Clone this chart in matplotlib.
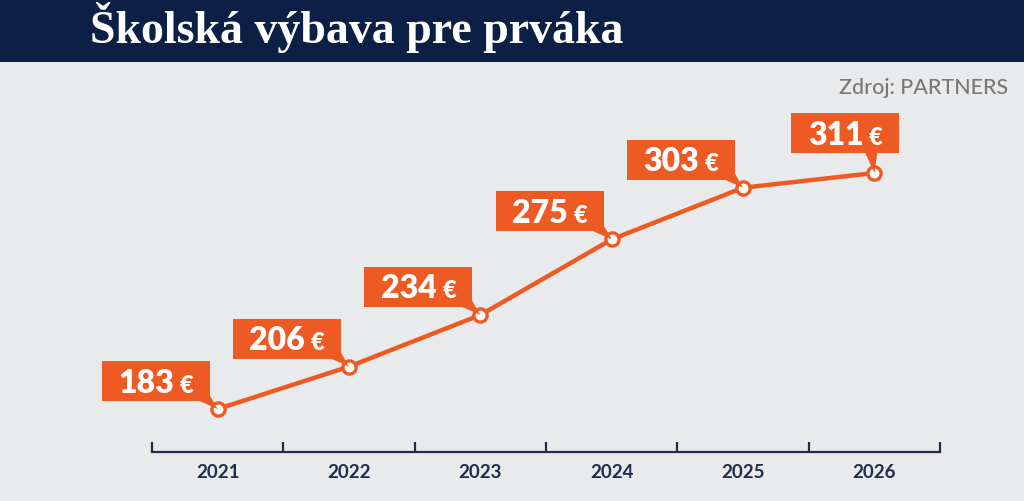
import matplotlib.pyplot as plt
import matplotlib.transforms as mtransforms
from matplotlib.patches import Polygon
from matplotlib.offsetbox import TextArea, HPacker, AnnotationBbox

# Data
years = ['2021', '2022', '2023', '2024', '2025', '2026']
prices = [183, 206, 234, 275, 303, 311]

title = 'Školská výbava pre prváka'
source = 'Zdroj: PARTNERS'

orange = '#ee5a24'
navy = '#0c1f45'
axis_col = '#1f2d4d'
bg = '#e9eaec'

W, H = 1024, 502
fig = plt.figure(figsize=(W / 100, H / 100), dpi=100)
fig.patch.set_facecolor(bg)

# top band with title
band = fig.add_axes([0, 1 - 63 / H, 1, 63 / H])
band.set_facecolor(navy)
band.set_xticks([])
band.set_yticks([])
for s in band.spines.values():
    s.set_visible(False)
fig.text(90 / W, 1 - 43 / H, title, color='white', fontsize=33,
         fontweight='bold', family='Liberation Serif', va='baseline', ha='left')

fig.text(1008 / W, 1 - 88 / H, source, color='#787878', fontsize=15.5,
         family='Lato', fontweight='medium', ha='right', va='center')

# chart area
ax = fig.add_axes([152 / W, 1 - 453 / H, 788 / W, (453 - 63) / H])
ax.set_facecolor('none')
ax.set_xlim(-0.5, len(years) - 0.5)
ax.set_ylim(159.7, 371.2)
for s in ['top', 'left', 'right']:
    ax.spines[s].set_visible(False)
ax.spines['bottom'].set_color(axis_col)
ax.spines['bottom'].set_linewidth(1.6)
ax.set_yticks([])
ax.set_xticks([i - 0.5 for i in range(len(years) + 1)])
ax.set_xticklabels([])
ax.tick_params(axis='x', which='major', direction='in', length=7,
               width=1.6, color=axis_col)
ax.set_xticks(range(len(years)), minor=True)
ax.set_xticklabels(years, minor=True)
ax.tick_params(axis='x', which='minor', length=0, pad=8, labelsize=13.5,
               labelcolor=axis_col)
for lbl in ax.get_xticklabels(minor=True):
    lbl.set_family('Lato')
    lbl.set_fontweight('bold')

x = list(range(len(years)))
ax.plot(x, prices, color=orange, lw=3.2, zorder=3, solid_capstyle='round')
ax.plot(x, prices, 'o', ms=9.5, mfc='white', mec=orange, mew=2.4, zorder=4)

# label boxes (pixel offsets relative to each point)
bw, bh = 108, 40
for i, (xi, v) in enumerate(zip(x, prices)):
    if i < len(prices) - 1:
        right, bottom = -8, 8
        tail = [(right - 10, bottom), (right, bottom + 6), (0, 0)]
    else:
        right, bottom = 25, 20
        tail = [(-9, bottom), (3, bottom), (0, 0)]
    left, top = right - bw, bottom + bh
    trans = mtransforms.IdentityTransform() + mtransforms.ScaledTranslation(xi, v, ax.transData)
    box = Polygon([(left, bottom), (right, bottom), (right, top), (left, top)],
                  closed=True, facecolor=orange, edgecolor='none',
                  transform=trans, zorder=5, clip_on=False)
    ax.add_patch(box)
    ax.add_patch(Polygon(tail, closed=True, facecolor=orange, edgecolor='none',
                         transform=trans, zorder=5, clip_on=False))
    num = TextArea(str(v), textprops=dict(color='white', fontsize=23,
                                          fontweight='heavy', family='Lato'))
    eur = TextArea('€', textprops=dict(color='white', fontsize=17,
                                       fontweight='heavy', family='Lato'))
    pack = HPacker(children=[num, eur], align='baseline', pad=0, sep=4)
    ab = AnnotationBbox(pack, (xi, v), xybox=((left + right) / 2, (bottom + top) / 2 - 1),
                        xycoords='data', boxcoords='offset pixels',
                        frameon=False, box_alignment=(0.5, 0.5), zorder=6,
                        annotation_clip=False)
    ax.add_artist(ab)

fig.savefig('out.png', dpi=100, facecolor=fig.get_facecolor())
